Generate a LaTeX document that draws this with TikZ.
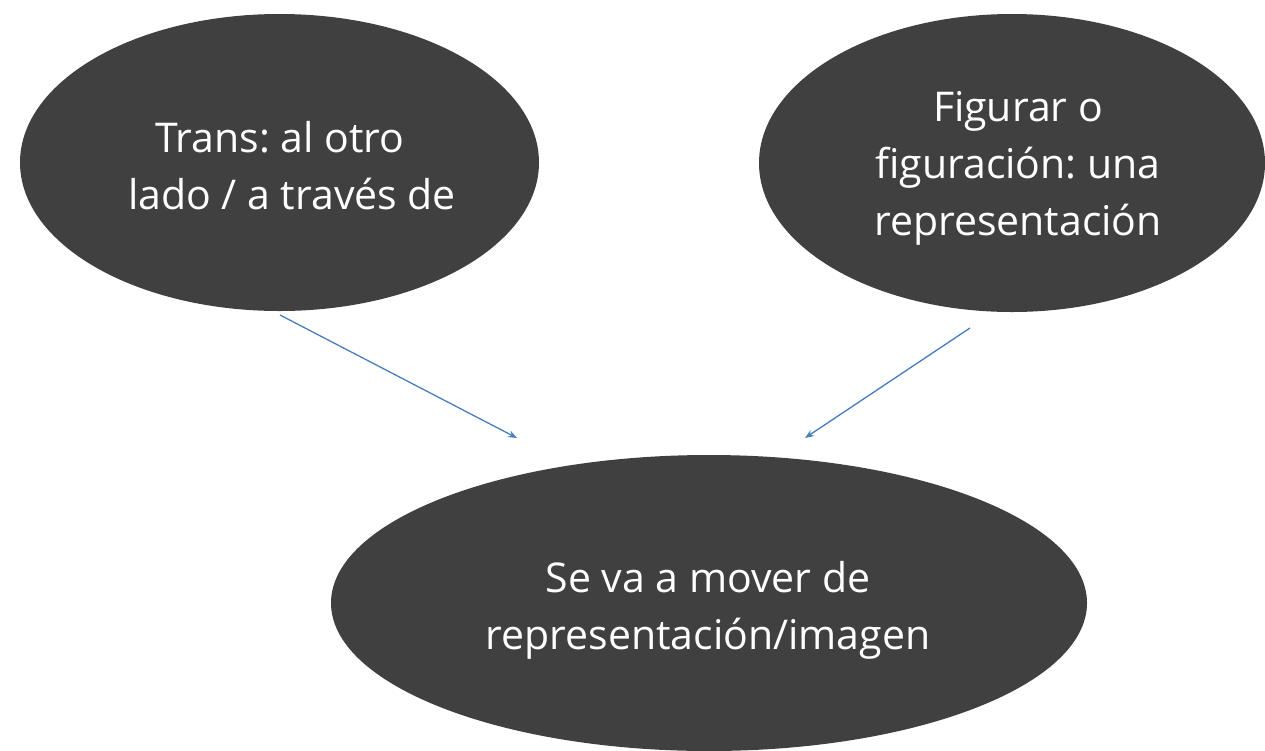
\documentclass[tikz,border=0pt]{standalone}
\usepackage{fontspec}
\setmainfont[Ligatures={NoCommon}]{Open Sans}
\usetikzlibrary{arrows.meta}
\definecolor{ellfill}{HTML}{404040}
\definecolor{arrblue}{HTML}{4A7EBB}
\tikzset{
  lbl/.style={text=white, align=center, font=\fontsize{41}{57}\selectfont\frenchspacing},
  conn/.style={draw=arrblue, line width=1.3pt, -{Stealth[length=9pt,width=7pt]}}
}
\begin{document}
\begin{tikzpicture}[x=1pt,y=-1pt]
\useasboundingbox (0,0) rectangle (1265,750);
\fill[ellfill] (279.5,162.5) ellipse [x radius=259.5, y radius=148.5];
\fill[ellfill] (1012,163) ellipse [x radius=253, y radius=149];
\fill[ellfill] (709,603) ellipse [x radius=378, y radius=148];
\node[lbl] (tl) at (292,166) {Trans: al otro\hspace*{24pt}\\lado / a través de};
\node[lbl] (tr) at (1018,168) {Figurar o\\figuración: una\\representación};
\node[lbl] (bm) at (708,610) {Se va a mover de\\representación/imagen};
\coordinate (a1s) at (280,315);
\coordinate (a1e) at (517,438);
\coordinate (a2s) at (970,328);
\coordinate (a2e) at (805,438);
\draw[conn] (a1s) -- (a1e);
\draw[conn] (a2s) -- (a2e);
\end{tikzpicture}
\end{document}
